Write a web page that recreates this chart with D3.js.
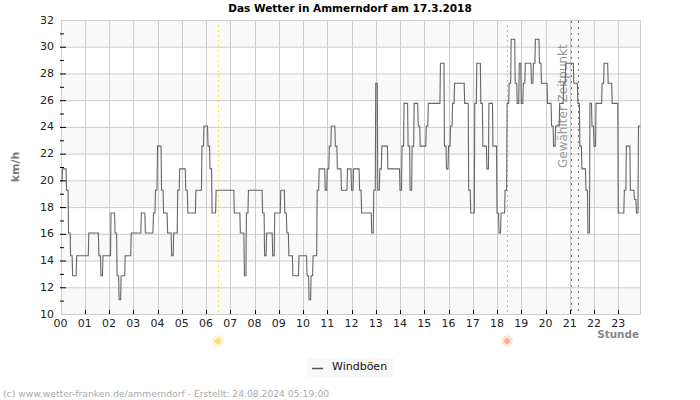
<!DOCTYPE html>
<html>
<head>
<meta charset="utf-8">
<script src="https://cdn.jsdelivr.net/npm/d3@7/dist/d3.min.js"></script>
<style>
  body { margin: 0; background: #fff; }
  svg { display: block; }
  text { font-family: "DejaVu Sans", sans-serif; }
</style>
</head>
<body>
<svg id="chart" width="700" height="400"></svg>
<script>
  // gusts in km/h, one row per hour, one value every 5 minutes
  var gusts = [
    20, 20.9, 20.9, 19.3, 16.1, 14.4, 12.9, 12.9, 14.4, 14.4, 14.4, 14.4,
    14.4, 14.4, 16.1, 16.1, 16.1, 16.1, 16.1, 14.4, 12.9, 14.4, 14.4, 14.4,
    14.4, 17.6, 17.6, 16.1, 12.9, 11.1, 12.9, 12.9, 14.4, 14.4, 14.4, 16.1,
    16.1, 16.1, 16.1, 16.1, 17.6, 17.6, 16.1, 16.1, 16.1, 16.1, 17.6, 19.3,
    22.6, 22.6, 19.3, 17.6, 17.6, 16.1, 16.1, 14.4, 16.1, 16.1, 19.3, 20.9,
    20.9, 20.9, 19.3, 17.6, 17.6, 17.6, 17.6, 19.3, 19.3, 19.3, 22.6, 24.1,
    24.1, 22.6, 20.9, 17.6, 17.6, 19.3, 19.3, 19.3, 19.3, 19.3, 19.3, 19.3,
    19.3, 19.3, 17.6, 17.6, 17.6, 16.1, 16.1, 12.9, 17.6, 19.3, 19.3, 19.3,
    19.3, 19.3, 19.3, 19.3, 17.6, 14.4, 16.1, 16.1, 16.1, 14.4, 17.6, 17.6,
    17.6, 19.3, 19.3, 17.6, 16.1, 14.4, 14.4, 12.9, 12.9, 12.9, 14.4, 14.4,
    14.4, 14.4, 12.9, 11.1, 12.9, 14.4, 14.4, 19.3, 20.9, 20.9, 20.9, 19.3,
    20.9, 22.6, 24.1, 24.1, 22.6, 20.9, 20.9, 19.3, 19.3, 19.3, 20.9, 20.9,
    19.3, 20.9, 20.9, 20.9, 19.3, 17.6, 17.6, 17.6, 17.6, 17.6, 16.1, 19.3,
    27.3, 19.3, 20.9, 22.6, 22.6, 22.6, 20.9, 20.9, 20.9, 20.9, 20.9, 20.9,
    19.3, 22.6, 25.8, 25.8, 22.6, 19.3, 22.6, 25.8, 25.8, 24.1, 22.6, 22.6,
    22.6, 24.1, 25.8, 25.8, 25.8, 25.8, 25.8, 25.8, 28.8, 28.8, 22.6, 20.9,
    22.6, 24.1, 25.8, 27.3, 27.3, 27.3, 27.3, 27.3, 25.8, 25.8, 19.3, 17.6,
    17.6, 25.8, 28.8, 28.8, 25.8, 22.6, 22.6, 20.9, 25.8, 25.8, 22.6, 22.6,
    17.6, 16.1, 17.6, 17.6, 19.3, 25.8, 27.3, 30.6, 30.6, 27.3, 25.8, 28.8,
    25.8, 27.3, 28.8, 28.8, 28.8, 27.3, 28.8, 30.6, 30.6, 28.8, 27.3, 27.3,
    27.3, 25.8, 25.8, 24.1, 22.6, 24.1, 24.1, 25.8, 25.8, 27.3, 28.8, 28.8,
    28.8, 28.8, 27.3, 27.3, 25.8, 22.6, 20.9, 20.9, 19.3, 16.1, 25.8, 24.1,
    22.6, 25.8, 25.8, 25.8, 27.3, 28.8, 28.8, 27.3, 27.3, 25.8, 25.8, 25.8,
    17.6, 17.6, 17.6, 19.3, 22.6, 22.6, 19.3, 19.3, 18.6, 17.6, 24.1, 24.1
  ];
  var hourLabels = ['00', '01', '02', '03', '04', '05', '06', '07', '08', '09', '10', '11',
    '12', '13', '14', '15', '16', '17', '18', '19', '20', '21', '22', '23'];
  var speedTicks = [10, 12, 14, 16, 18, 20, 22, 24, 26, 28, 30, 32];
  var minorTicks = [11, 13, 15, 17, 19, 21, 23, 25, 27, 29, 31];
  var shadedBands = [10, 14, 18, 22, 26, 30];
  var sunEvents = [
    { hour: 6.5, line: '#f5e642', sun: '#fbdc7a' },
    { hour: 18.42, line: '#f0b060', sun: '#fbb095' }
  ];
  var selectedTimes = [21.07, 21.32];

  var svg = d3.select('#chart');
  var x = d3.scaleLinear().domain([0, 287 / 12]).range([60.5, 640.5]);
  var y = d3.scaleLinear().domain([10, 32]).range([314.5, 20.5]);

  // background bands
  svg.selectAll('.band').data(shadedBands).enter().append('rect')
    .attr('x', x.range()[0])
    .attr('width', x.range()[1] - x.range()[0])
    .attr('y', function (d) { return y(d + 2); })
    .attr('height', function (d) { return y(d) - y(d + 2); })
    .attr('fill', '#f9f9f9');

  // grid
  svg.selectAll('.gridY').data(speedTicks).enter().append('line')
    .attr('x1', x.range()[0]).attr('x2', x.range()[1])
    .attr('y1', y).attr('y2', y)
    .attr('stroke', '#cccccc');
  svg.selectAll('.gridX').data(d3.range(hourLabels.length)).enter().append('line')
    .attr('x1', function (d) { return Math.round(x(d)) + 0.5; })
    .attr('x2', function (d) { return Math.round(x(d)) + 0.5; })
    .attr('y1', y.range()[1]).attr('y2', y.range()[0])
    .attr('stroke', '#cccccc');
  svg.append('line')
    .attr('x1', x.range()[1]).attr('x2', x.range()[1])
    .attr('y1', y.range()[1]).attr('y2', y.range()[0])
    .attr('stroke', '#cccccc');

  // sunrise and sunset
  svg.selectAll('.sunLine').data(sunEvents).enter().append('line')
    .attr('x1', function (d) { return Math.round(x(d.hour)) + 0.5; })
    .attr('x2', function (d) { return Math.round(x(d.hour)) + 0.5; })
    .attr('y1', 25).attr('y2', y.range()[0])
    .attr('stroke', function (d) { return d.line; })
    .attr('stroke-dasharray', '2,3');

  var sun = svg.selectAll('.sun').data(sunEvents).enter().append('g')
    .attr('transform', function (d) { return 'translate(' + x(d.hour) + ',341)'; });
  sun.append('circle').attr('r', 3).attr('fill', function (d) { return d.sun; });
  sun.selectAll('line').data(function (d) {
    return d3.range(12).map(function (i) { return { a: i * Math.PI / 6, c: d.sun }; });
  }).enter().append('line')
    .attr('x1', function (d) { return Math.cos(d.a) * 3; })
    .attr('y1', function (d) { return Math.sin(d.a) * 3; })
    .attr('x2', function (d) { return Math.cos(d.a) * 6; })
    .attr('y2', function (d) { return Math.sin(d.a) * 6; })
    .attr('stroke', function (d) { return d.c; })
    .attr('stroke-width', 0.8);

  // selected moment
  svg.selectAll('.selected').data(selectedTimes).enter().append('line')
    .attr('x1', function (d) { return Math.round(x(d)) + 0.5; })
    .attr('x2', function (d) { return Math.round(x(d)) + 0.5; })
    .attr('y1', 21).attr('y2', y.range()[0])
    .attr('stroke', '#777777')
    .attr('stroke-dasharray', '2,4');

  svg.append('text')
    .attr('transform', 'translate(567,168) rotate(-90)')
    .attr('font-size', 12)
    .attr('fill', '#999999')
    .text('Gewählter Zeitpunkt');

  // data line, each reading is held for most of its 5 minutes
  var line = d3.line()
    .x(function (d) { return x(d[0]); })
    .y(function (d) { return y(d[1]); });
  var held = [];
  gusts.forEach(function (g, i) {
    held.push([i / 12, g]);
    if (i < gusts.length - 1) held.push([(i + 0.75) / 12, g]);
  });
  svg.append('path')
    .attr('d', line(held))
    .attr('fill', 'none')
    .attr('stroke', '#666666')
    .attr('stroke-width', 1.1);

  // ticks
  svg.selectAll('.tickY').data(speedTicks.slice(1, -1)).enter().append('line')
    .attr('x1', 60).attr('x2', 66).attr('y1', y).attr('y2', y).attr('stroke', '#000');
  svg.selectAll('.tickMinor').data(minorTicks).enter().append('line')
    .attr('x1', 60).attr('x2', 64).attr('y1', y).attr('y2', y).attr('stroke', '#000');
  svg.selectAll('.tickX').data(d3.range(1, hourLabels.length)).enter().append('line')
    .attr('x1', function (d) { return Math.round(x(d)) + 0.5; })
    .attr('x2', function (d) { return Math.round(x(d)) + 0.5; })
    .attr('y1', 310).attr('y2', 314)
    .attr('stroke', '#000');

  svg.selectAll('.labelY').data(speedTicks).enter().append('text')
    .attr('x', 54).attr('y', function (d) { return y(d) + 3; })
    .attr('text-anchor', 'end')
    .attr('font-size', 11)
    .attr('fill', '#222')
    .text(function (d) { return d; });
  svg.selectAll('.labelX').data(hourLabels).enter().append('text')
    .attr('x', function (d, i) { return x(i); })
    .attr('y', 327)
    .attr('text-anchor', 'middle')
    .attr('font-size', 11)
    .attr('fill', '#222')
    .text(function (d) { return d; });

  // titles
  svg.append('text')
    .attr('x', 350).attr('y', 12)
    .attr('text-anchor', 'middle')
    .attr('font-size', 10.5).attr('font-weight', 'bold')
    .attr('fill', '#000')
    .text('Das Wetter in Ammerndorf am 17.3.2018');
  svg.append('text')
    .attr('transform', 'translate(19,167) rotate(-90)')
    .attr('text-anchor', 'middle')
    .attr('font-size', 11).attr('font-weight', 'bold')
    .attr('fill', '#777')
    .text('km/h');
  svg.append('text')
    .attr('x', 639).attr('y', 338)
    .attr('text-anchor', 'end')
    .attr('font-size', 10.4).attr('font-weight', 'bold')
    .attr('fill', '#888')
    .text('Stunde');

  // legend
  svg.append('rect').attr('x', 307).attr('y', 358).attr('width', 87).attr('height', 19).attr('fill', '#f8f8f8');
  svg.append('line').attr('x1', 312).attr('x2', 323).attr('y1', 368.5).attr('y2', 368.5)
    .attr('stroke', '#555').attr('stroke-width', 1.5);
  svg.append('text').attr('x', 332).attr('y', 370)
    .attr('font-size', 11).attr('fill', '#111').text('Windböen');

  svg.append('text').attr('x', 3).attr('y', 397)
    .attr('font-size', 9.2).attr('fill', '#aaa')
    .text('(c) www.wetter-franken.de/ammerndorf - Erstellt: 24.08.2024 05:19:00');
</script>
</body>
</html>
